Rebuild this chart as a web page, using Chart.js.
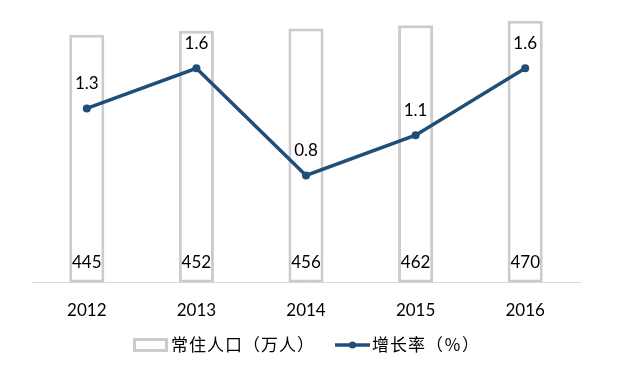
<!DOCTYPE html>
<html>
<head>
<meta charset="utf-8">
<script src="https://cdn.jsdelivr.net/npm/chart.js@4.4.1/dist/chart.umd.min.js"></script>
<style>
  html, body { margin: 0; padding: 0; background: #fff; }
  #wrap { width: 629px; height: 365px; }
</style>
</head>
<body>
<div id="wrap"><canvas id="popChart" width="629" height="365"></canvas></div>
<script>
let years = ["2012", "2013", "2014", "2015", "2016"];
let population = [445, 452, 456, 462, 470];
let growthRate = [1.3, 1.6, 0.8, 1.1, 1.6];
let seriesNames = ["常住人口（万人）", "增长率（％）"];

let barColor = "#cccccc";
let lineColor = "#1f4e79";
let numFont = "Lato, 'Noto Sans', sans-serif";
let cjkFont = "'Noto Sans CJK SC', 'Noto Sans', sans-serif";

// value labels for both series (dataset 0 = line, 1 = bars)
let valueLabels = {
  id: "valueLabels",
  afterDatasetsDraw(chart) {
    let c = chart.ctx;
    c.save();
    c.font = "17px " + numFont;
    c.fillStyle = "#000";
    c.textAlign = "center";
    c.textBaseline = "middle";
    chart.getDatasetMeta(1).data.forEach(function (bar, i) {
      c.fillText(population[i], bar.x, bar.base - 20);
    });
    chart.getDatasetMeta(0).data.forEach(function (pt, i) {
      c.fillText(growthRate[i].toFixed(1), pt.x, pt.y - 25);
    });
    c.restore();
  }
};

// legend at the bottom, drawn by hand
let bottomLegend = {
  id: "bottomLegend",
  afterDraw(chart) {
    let c = chart.ctx;
    let y = 345;
    c.save();
    c.strokeStyle = barColor;
    c.lineWidth = 3;
    c.strokeRect(134.5, 339.5, 32, 11);
    c.strokeStyle = lineColor;
    c.lineWidth = 3.5;
    c.beginPath();
    c.moveTo(335, y);
    c.lineTo(370, y);
    c.stroke();
    c.fillStyle = lineColor;
    c.beginPath();
    c.arc(352.5, y, 3.5, 0, Math.PI * 2);
    c.fill();
    c.fillStyle = "#000";
    c.font = "17px " + cjkFont;
    c.letterSpacing = "1px";
    c.textBaseline = "middle";
    c.fillText(seriesNames[0], 171, y);
    c.fillText(seriesNames[1], 372, y);
    c.restore();
  }
};

let ctx = document.getElementById("popChart").getContext("2d");
let popChart = new Chart(ctx, {
  data: {
    labels: years,
    datasets: [
      {
        type: "line",
        label: seriesNames[1],
        data: growthRate,
        yAxisID: "y2",
        borderColor: lineColor,
        backgroundColor: lineColor,
        borderWidth: 3.5,
        pointRadius: 4,
        pointBackgroundColor: lineColor,
        pointBorderWidth: 0,
        tension: 0,
        order: 0
      },
      {
        type: "bar",
        label: seriesNames[0],
        data: population,
        yAxisID: "y",
        backgroundColor: "#ffffff",
        borderColor: barColor,
        borderWidth: 3,
        borderSkipped: false,
        barPercentage: 1,
        categoryPercentage: 0.32,
        order: 1
      }
    ]
  },
  options: {
    responsive: false,
    animation: false,
    layout: {
      padding: { left: 32, right: 49, top: 2, bottom: 26 }
    },
    plugins: {
      legend: { display: false },
      tooltip: { enabled: false }
    },
    scales: {
      x: {
        grid: { display: false, drawTicks: false },
        border: { display: true, color: "#d9d9d9", width: 1 },
        ticks: {
          padding: 18,
          color: "#000",
          font: { family: numFont, size: 17 }
        }
      },
      y: {
        display: false,
        min: 0,
        max: 500
      },
      y2: {
        display: false,
        position: "right",
        min: 0,
        max: 2.08
      }
    }
  },
  plugins: [valueLabels, bottomLegend]
});
</script>
</body>
</html>
